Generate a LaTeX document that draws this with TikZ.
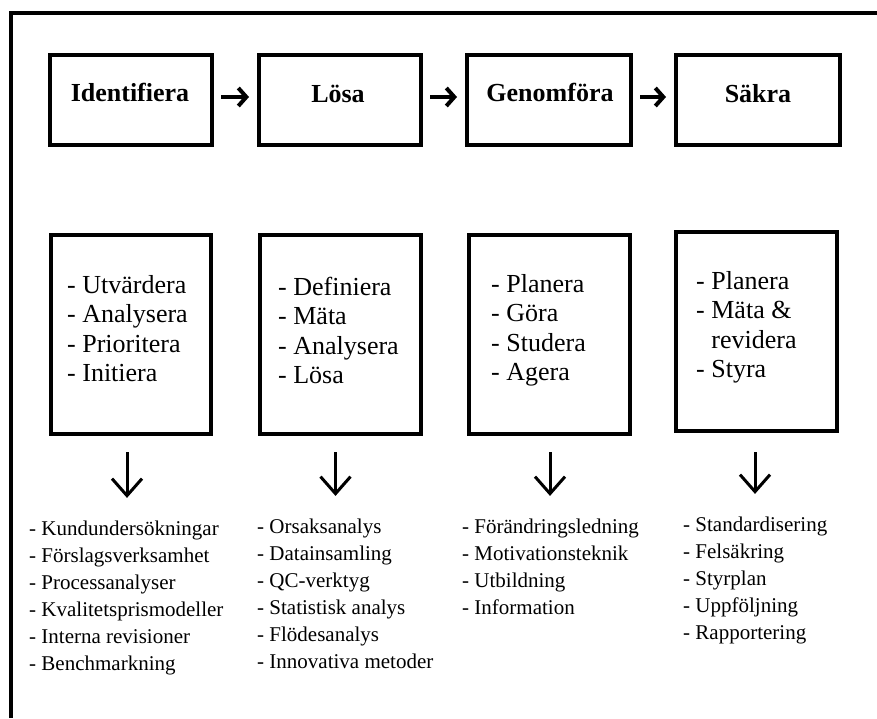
\documentclass[tikz,border=0pt]{standalone}
\usepackage{fontspec}
\setmainfont{Liberation Serif}
\usetikzlibrary{arrows.meta,calc}
\newcommand{\lstcol}[1]{\begin{tabular}[t]{@{}l@{}}#1\end{tabular}}
\begin{document}
\begin{tikzpicture}[x=1pt,y=-1pt,
 frameline/.style={line width=4pt,line join=miter},
 tbox/.style={draw,line width=4pt,minimum width=162pt,minimum height=90pt,inner sep=0pt},
 bbox/.style={draw,line width=4pt,minimum width=161pt,minimum height=199pt,inner sep=0pt},
 ttext/.style={font=\fontsize{26}{30}\selectfont\bfseries,anchor=base,inner sep=0pt},
 btext/.style={font=\fontsize{26}{29.5}\selectfont,anchor=base west,inner sep=0pt},
 ltext/.style={font=\fontsize{21}{27}\selectfont,anchor=base west,inner sep=0pt},
 harrow/.style={line width=4pt,-{Straight Barb[length=8pt,width=18pt]},shorten <=7pt,shorten >=8pt},
 darrow/.style={line width=3pt,-{Straight Barb[length=17pt,width=30pt]},shorten <=16pt,shorten >=18pt}]
\useasboundingbox (0,0) rectangle (877,718);
\fill[white] (0,0) rectangle (877,718);
\draw[frameline] (11,718) -- (11,13) -- (877,13);

% top row
\node[tbox] (t1) at (131,100) {};
\node[tbox] (t2) at (340,100) {};
\node[tbox,minimum width=164pt] (t3) at (549,100) {};
\node[tbox,minimum width=164pt] (t4) at (758,100) {};
\node[ttext] (t1l) at (130,101) {Identifiera};
\node[ttext] (t2l) at (338,102) {Lösa};
\node[ttext] (t3l) at (550,101) {Genomföra};
\node[ttext] (t4l) at (758,102) {Säkra};

\draw[harrow] ([yshift=3pt]t1.east) -- ([yshift=3pt]t2.west);
\draw[harrow] ([yshift=3pt]t2.east) -- ([yshift=3pt]t3.west);
\draw[harrow] ([yshift=3pt]t3.east) -- ([yshift=3pt]t4.west);

% second row
\node[bbox,minimum width=160pt] (b1) at (131,334.5) {};
\node[bbox] (b2) at (340.5,334.5) {};
\node[bbox] (b3) at (549.5,334.5) {};
\node[bbox] (b4) at (756.5,331.5) {};
\node[btext] (b1l) at (67,293) {\lstcol{- Utvärdera\\- Analysera\\- Prioritera\\- Initiera}};
\node[btext] (b2l) at (278,295) {\lstcol{- Definiera\\- Mäta\\- Analysera\\- Lösa}};
\node[btext] (b3l) at (491,292) {\lstcol{- Planera\\- Göra\\- Studera\\- Agera}};
\node[btext] (b4l) at (696,289) {\lstcol{- Planera\\- Mäta \&\\\phantom{- }revidera\\- Styra}};

% lists
\node[ltext] (l1) at (29,535) {\lstcol{- Kundundersökningar\\- Förslagsverksamhet\\- Processanalyser\\- Kvalitetsprismodeller\\- Interna revisioner\\- Benchmarkning}};
\node[ltext] (l2) at (257,533) {\lstcol{- Orsaksanalys\\- Datainsamling\\- QC-verktyg\\- Statistisk analys\\- Flödesanalys\\- Innovativa metoder}};
\node[ltext] (l3) at (462,533) {\lstcol{- Förändringsledning\\- Motivationsteknik\\- Utbildning\\- Information}};
\node[ltext] (l4) at (683,531) {\lstcol{- Standardisering\\- Felsäkring\\- Styrplan\\- Uppföljning\\- Rapportering}};

\draw[darrow] ([xshift=-4pt]b1.south) -- ([xshift=-4pt]b1.south |- l1.north);
\draw[darrow] ([xshift=-5pt]b2.south) -- ([xshift=-5pt]b2.south |- l2.north);
\draw[darrow] ([xshift=0.5pt]b3.south) -- ([xshift=0.5pt]b3.south |- l3.north);
\draw[darrow] ([xshift=-1.5pt]b4.south) ++(0,3) -- ([xshift=-1.5pt]b4.south |- l4.north);
\end{tikzpicture}
\end{document}
